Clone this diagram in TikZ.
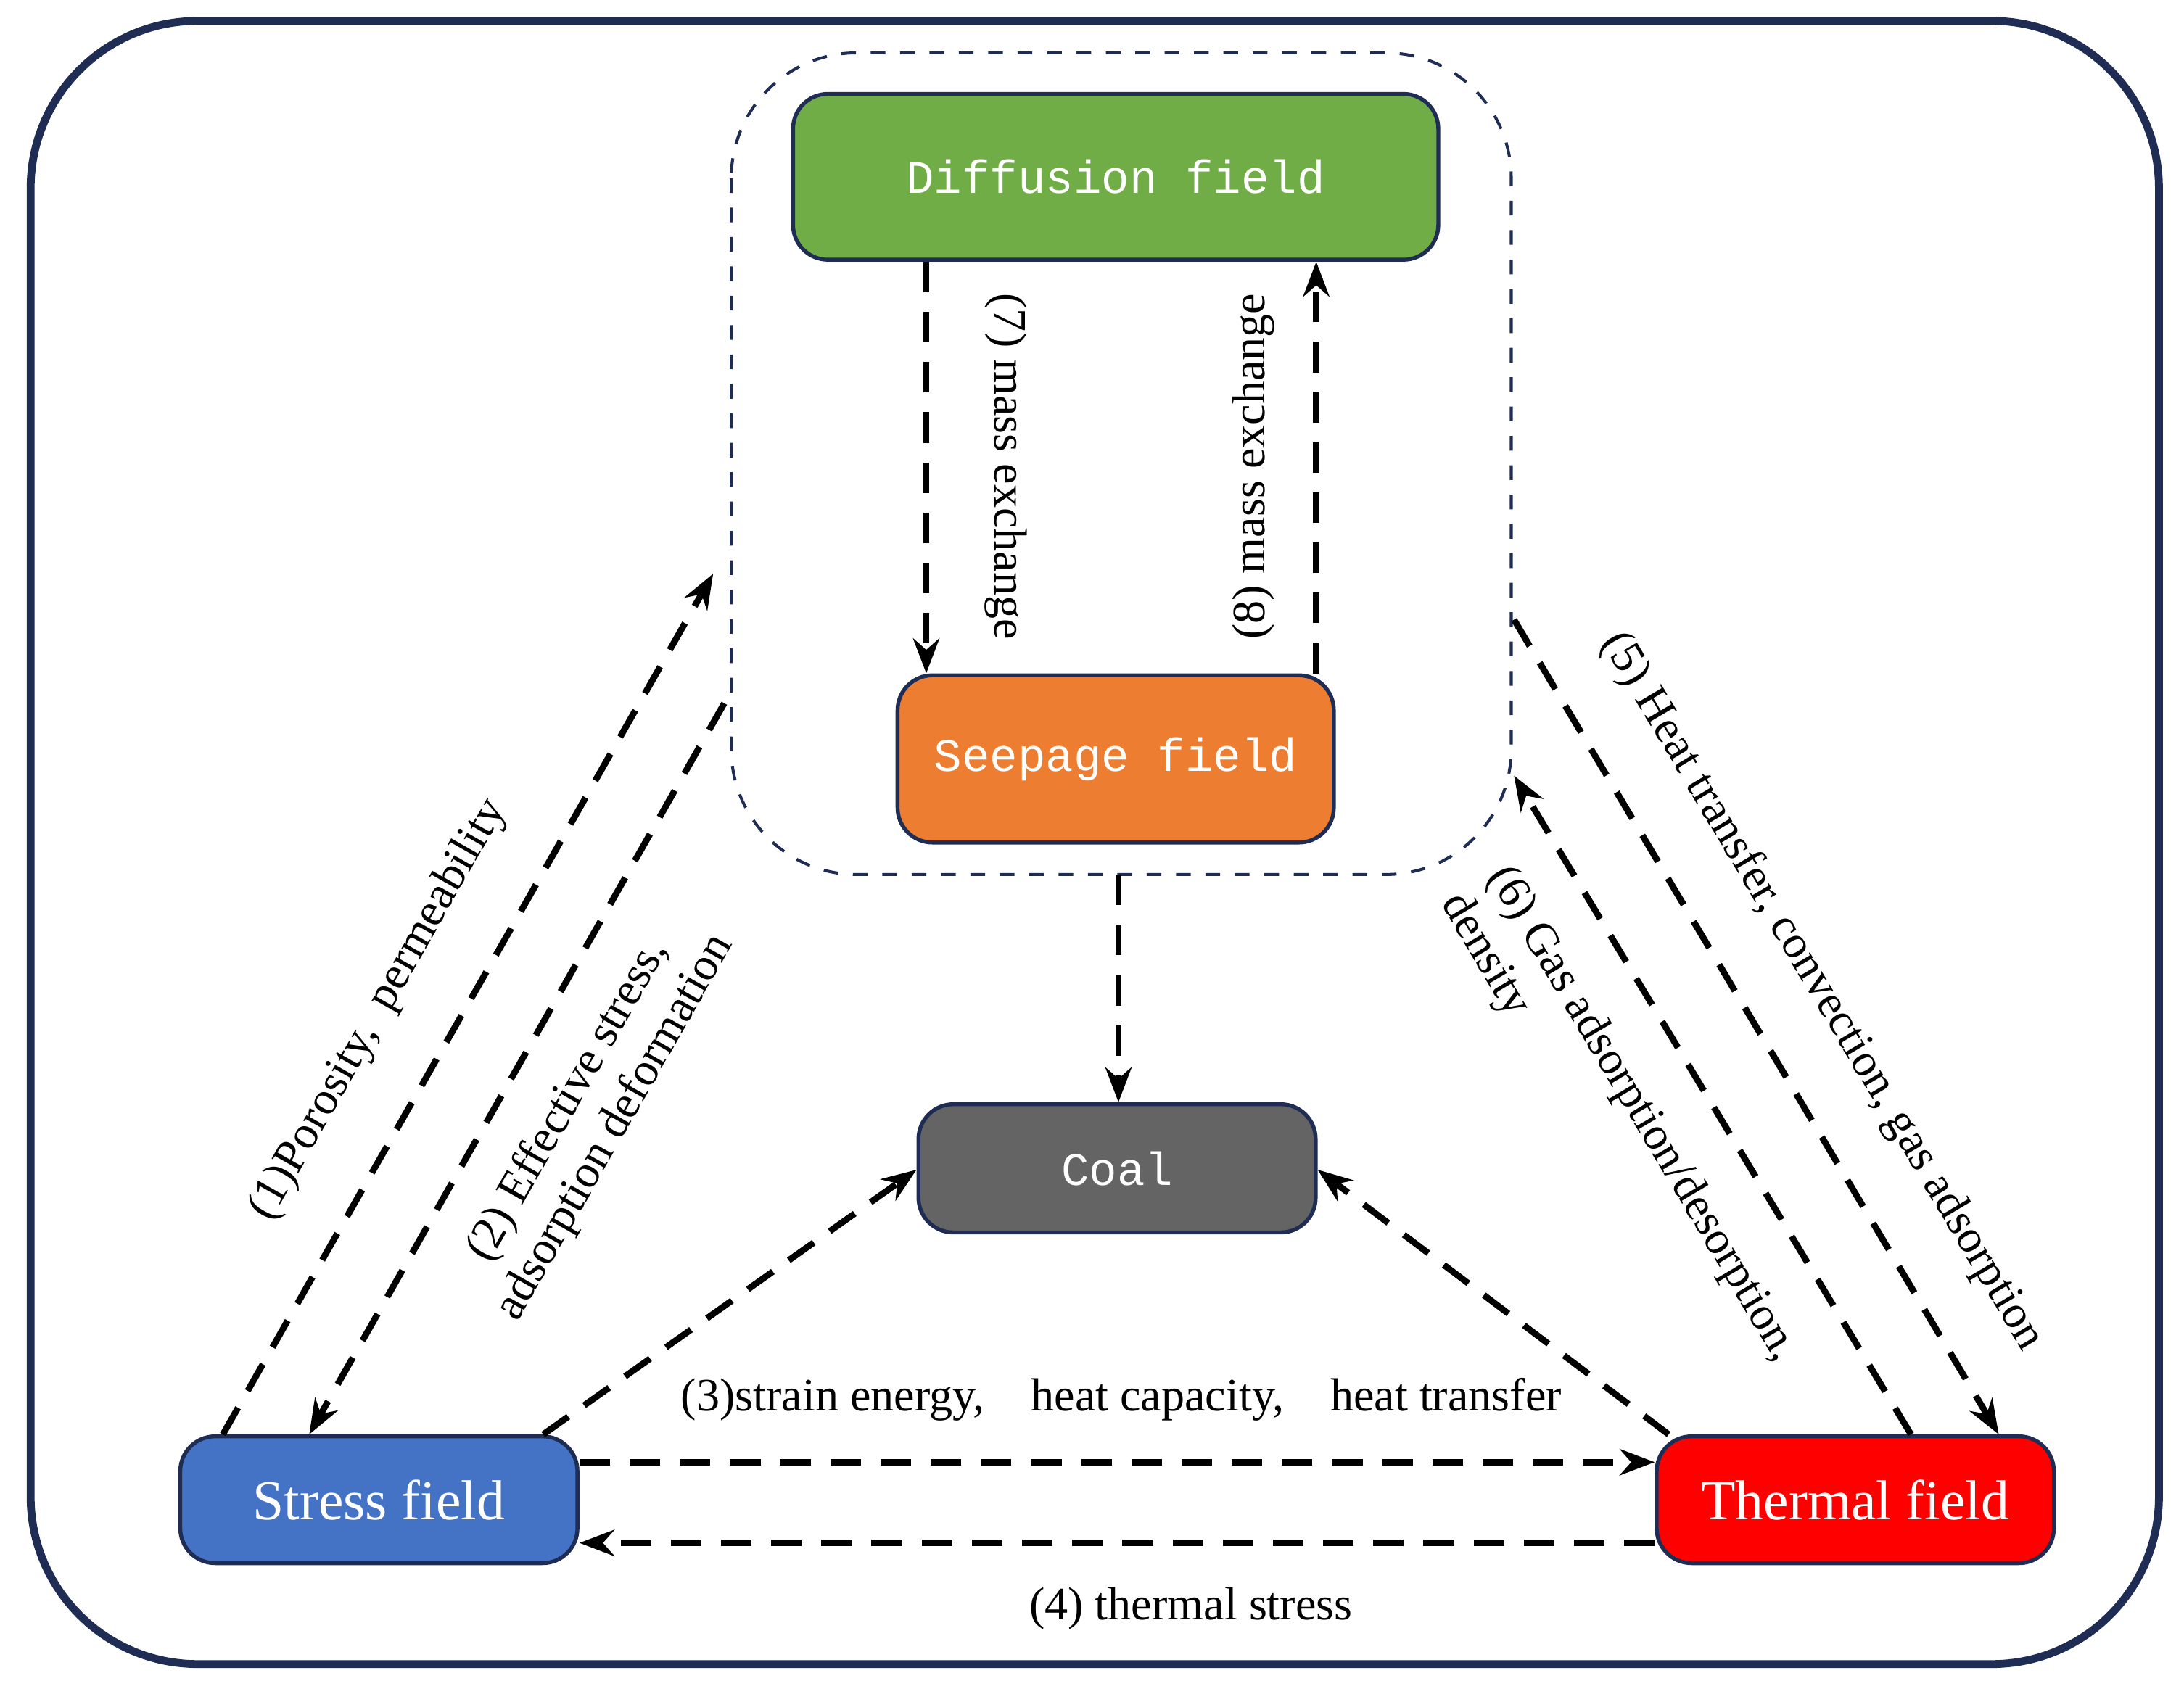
\documentclass[tikz,border=0pt]{standalone}
\usepackage{fontspec}
\setmainfont{Liberation Serif}
\setmonofont{Liberation Mono}
\usetikzlibrary{arrows.meta,calc,positioning}
\definecolor{navy}{RGB}{31,45,84}
\definecolor{diffgreen}{RGB}{112,173,71}
\definecolor{seeporange}{RGB}{237,125,49}
\definecolor{coalgray}{RGB}{100,100,100}
\definecolor{stressblue}{RGB}{68,114,196}
\tikzset{
	field/.style = {draw=navy, line width=0.8pt, rounded corners=2.5mm, text=white, inner sep=0pt},
	mono/.style = {font=\ttfamily\fontsize{9.5}{11}\selectfont},
	link/.style = {dashed, dash pattern=on 2.2mm off 1.4mm, line width=1.3pt, -{Stealth[length=2.5mm]}},
	lbl/.style = {font=\fontsize{9.5}{11}\selectfont, align=center}
}
\begin{document}
\begin{tikzpicture}[x=0.01cm, y=-0.01cm]
	\useasboundingbox (0,0) rectangle (1568,1222);
	\draw[navy, line width=1.6pt, rounded corners=1.2cm] (22,15) rectangle (1550,1195);
	\draw[navy, dashed, line width=0.6pt, rounded corners=0.9cm] (525,38) rectangle (1085,628);
	\node[field, mono, fill=diffgreen, minimum width=4.63cm, minimum height=1.19cm] (diff) at (801,127) {Diffusion field};
	\node[field, mono, fill=seeporange, minimum width=3.13cm, minimum height=1.2cm] (seep) at (801,545) {Seepage field};
	\node[field, mono, fill=coalgray, minimum width=2.85cm, minimum height=0.92cm] (coal) at (802,839) {Coal};
	\node[field, fill=stressblue, minimum width=2.85cm, minimum height=0.91cm, font=\fontsize{11.5}{14}\selectfont] (stress) at (272,1077) {Stress field};
	\node[field, fill=red, minimum width=2.85cm, minimum height=0.91cm, font=\fontsize{11.5}{14}\selectfont] (therm) at (1332,1077) {Thermal field};
	\coordinate (p1) at (512,412);
	\coordinate (p2) at (520,505);
	\coordinate (p5) at (1087,445);
	\coordinate (p6) at (1087,557);
	\coordinate (pc) at (803,628);
	% diffusion <-> seepage
	\draw[link] (diff.south -| 665,0) -- (seep.north -| 665,0);
	\draw[link] (seep.north -| 945,0) -- (diff.south -| 945,0);
	\node[lbl, rotate=-90] at (722,335) {(7) mass exchange};
	\node[lbl, rotate=90] at (900,335) {(8) mass exchange};
	\draw[link] (pc) -- (coal.north -| pc);
	% stress side
	\draw[link] (stress.north -| 160,0) -- (p1);
	\draw[link] (p2) -- (stress.north -| 222,0);
	\node[lbl, rotate=60.4] at (272,725) {(1)Porosity,\ \ permeability};
	\node[lbl, rotate=60.4] at (425,800) {(2) Effective stress,\\adsorption deformation};
	% thermal side
	\draw[link] (p5) -- (therm.north -| 1435,0);
	\draw[link] (therm.north -| 1372,0) -- (p6);
	\node[lbl, rotate=-59.3] at (1308,712) {(5) Heat transfer, convection, gas adsorption};
	\node[lbl, rotate=-59.3, align=left] at (1162,810) {(6) Gas adsorption/desorption,\\density};
	% to coal
	\draw[link] (stress.north -| 390,0) -- (coal.west |- 0,840);
	\draw[link] (therm.north -| 1198,0) -- (coal.east |- 0,840);
	\node[lbl] at (805,1005) {(3)strain energy,\quad heat capacity,\quad heat transfer};
	% stress <-> thermal
	\draw[link] (stress.east |- 0,1050) -- (therm.west |- 0,1050);
	\draw[link] (therm.west |- 0,1108) -- (stress.east |- 0,1108);
	\node[lbl] at (855,1155) {(4) thermal stress};
\end{tikzpicture}
\end{document}
